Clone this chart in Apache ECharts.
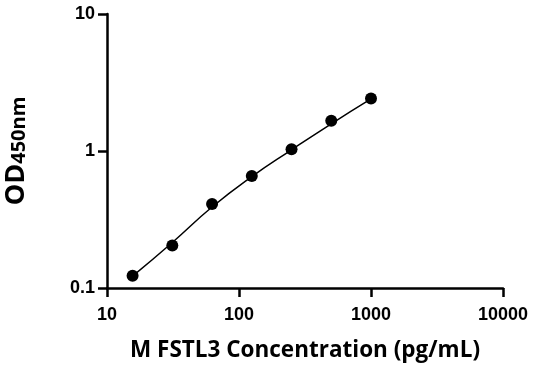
<!DOCTYPE html>
<html><head><meta charset="utf-8">
<script src="https://cdn.jsdelivr.net/npm/echarts@6/dist/echarts.min.js"></script>
<style>html,body{margin:0;padding:0;background:#fff}#c{width:536px;height:371px}</style>
</head><body><div id="c"></div>
<script>
const concentrations = [15.625, 31.25, 62.5, 125, 250, 500, 1000];
const odValues = [0.123, 0.204, 0.41, 0.657, 1.03, 1.66, 2.42];
const fitX = [15.625, 31.25, 62.5, 125, 250, 500, 1000];
const fitY = [0.122, 0.215, 0.39, 0.65, 1.02, 1.58, 2.4];
const xTicks = [10, 100, 1000, 10000];
const yTicks = [0.1, 1, 10];

const titleFont = '"Open Sans", "DejaVu Sans", sans-serif';
const tickFont = '"Liberation Sans", Arial, sans-serif';
const chart = echarts.init(document.getElementById('c'));
chart.setOption({
  animation: false,
  grid: {left: 107, right: 33, top: 14, bottom: 83, containLabel: false, outerBoundsMode: 'none'},
  xAxis: {
    type: 'log', logBase: 10, min: xTicks[0], max: xTicks[xTicks.length - 1],
    name: 'M FSTL3 Concentration (pg/mL)', nameLocation: 'middle', nameGap: 51,
    nameTextStyle: {fontFamily: titleFont, fontWeight: 'bold', fontSize: 22.5, color: '#000'},
    axisLine: {lineStyle: {color: '#000', width: 2.5}},
    axisTick: {length: 9, lineStyle: {color: '#000', width: 2.5}},
    minorTick: {show: false},
    splitLine: {show: false},
    axisLabel: {margin: 18, fontFamily: tickFont, fontWeight: 'bold', fontSize: 18, color: '#000',
      formatter: v => String(v)}
  },
  yAxis: {
    type: 'log', logBase: 10, min: yTicks[0], max: yTicks[yTicks.length - 1],
    name: '{a|OD}{b|450nm}', nameLocation: 'middle', nameGap: 77, nameRotate: 90,
    nameTextStyle: {rich: {
      a: {fontFamily: titleFont, fontWeight: 'bold', fontSize: 27, color: '#000'},
      b: {fontFamily: titleFont, fontWeight: 'bold', fontSize: 20, color: '#000', padding: [5, 0, 0, 0]}
    }},
    axisLine: {lineStyle: {color: '#000', width: 2.5}},
    axisTick: {length: 9, lineStyle: {color: '#000', width: 2.5}},
    splitLine: {show: false},
    axisLabel: {margin: 12, fontFamily: tickFont, fontWeight: 'bold', fontSize: 18, color: '#000',
      formatter: v => String(v)}
  },
  series: [
    {type: 'line', data: fitX.map((x, i) => [x, fitY[i]]), smooth: true, showSymbol: false,
     lineStyle: {color: '#000', width: 1.5}, silent: true},
    {type: 'scatter', data: concentrations.map((x, i) => [x, odValues[i]]), symbolSize: 12,
     itemStyle: {color: '#000', opacity: 1}}
  ]
});
</script></body></html>
